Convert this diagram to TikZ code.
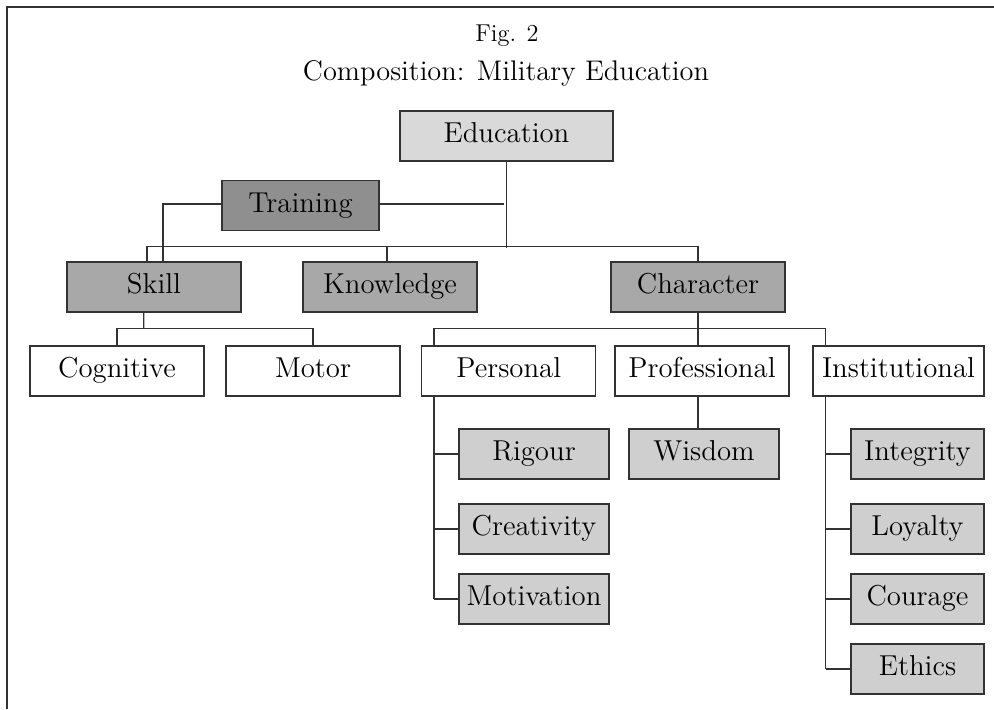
\documentclass[tikz,border=0pt]{standalone}
\usepackage{xcolor}
\definecolor{eduGray}{HTML}{D9D9D9}
\definecolor{trainGray}{HTML}{8F8F8F}
\definecolor{pillarGray}{HTML}{A8A8A8}
\definecolor{valueGray}{HTML}{CFCFCF}
\definecolor{lineDark}{HTML}{333333}
\usepackage{tikz}
\usetikzlibrary{positioning}

\begin{document}
\begin{tikzpicture}[
            x=0.5pt,
            y=-0.5pt,
            box/.style={
                draw=lineDark,
                rectangle,
                line width=0.65pt,
                inner sep=0pt,
                minimum width=87pt,
                minimum height=25pt,
                text height=10pt,
                text depth=3.3pt,
                fill=white,
                font=\fontsize{14.4}{17}\selectfont
            },
            pillar/.style={
                box,
                fill=pillarGray
            },
            valuebox/.style={
                box,
                minimum width=75pt,
                fill=valueGray
            },
            link/.style={
                draw=lineDark,
                line width=0.6pt
            },
            caption/.style={
                anchor=base,
                font=\fontsize{14.2}{17}\selectfont
            }
        ]
            \useasboundingbox (0,0) rectangle (994,709);
            \draw[line width=0.85pt, lineDark] (7,709) -- (7,6.7) -- (994,6.7);

            \node (fig) [caption, font=\fontsize{12.2}{14}\selectfont] at (507,41.7) {Fig. 2};
            \node (title) [caption] at (506,80.7) {Composition: Military Education};

            \node (education) [box, minimum width=106.5pt, fill=eduGray] at (506.5,136) {Education};
            \node (training) [box, minimum width=78.5pt, fill=trainGray] at (300.5,205.7) {Training};
            \node (skill) [pillar] at (154,287) {Skill};
            \node (knowledge) [pillar] at (390,287) {Knowledge};
            \node (character) [pillar] at (698,287) {Character};

            \node (cognitive) [box] at (117,371) {Cognitive};
            \node (motor) [box] at (313,371) {Motor};
            \node (personal) [box] at (508.8,371) {Personal};
            \node (professional) [box] at (702,371) {Professional};
            \node (institutional) [box, minimum width=85.5pt] at (898.5,371) {Institutional};

            \node (rigour) [valuebox] at (534,454) {Rigour};
            \node (creativity) [valuebox] at (534,529) {Creativity};
            \node (motivation) [valuebox] at (534,599) {Motivation};
            \node (wisdom) [valuebox] at (704,454) {Wisdom};
            \node (integrity) [valuebox, minimum width=66.5pt] at (917.5,454) {Integrity};
            \node (loyalty) [valuebox, minimum width=66.5pt] at (917.5,529) {Loyalty};
            \node (courage) [valuebox, minimum width=66.5pt] at (917.5,599) {Courage};
            \node (ethics) [valuebox, minimum width=66.5pt] at (917.5,669) {Ethics};

            \coordinate (eduEnd) at (506.5,248);
            \coordinate (topBus) at (506.5,246.7);
            \coordinate (trainEnd) at (504,204);
            \coordinate (skillBus) at (143.7,328.3);
            \coordinate (charBus) at (698,328.3);
            \coordinate (perSpine) at (434,599);
            \coordinate (insSpine) at (825.7,669);

            \draw[link] (education) -- (eduEnd);
            \draw[link] ([xshift=-3.5pt]skill.north) |- (topBus) -| (character);
            \draw[link] ([xshift=-1.5pt]knowledge.north) |- (topBus);
            \draw[link] (training.east |- trainEnd) -- (trainEnd);
            \draw[link] (training.west |- trainEnd) -| ([xshift=4.5pt]skill.north);

            \draw[link] ([xshift=-5.15pt]skill.south) -- (skillBus);
            \draw[link] (cognitive) |- (skillBus) -| (motor);

            \draw[link] (character) -- (charBus);
            \draw[link] (perSpine |- personal.north) |- (charBus) -| (insSpine |- institutional.north);
            \draw[link] (charBus) -- (charBus |- professional.north);
            \draw[link] (charBus |- professional.south) -- (charBus |- wisdom.north);

            \draw[link] (perSpine |- personal.south) -- (perSpine);
            \foreach \leaf in {rigour, creativity, motivation}
                \draw[link] (perSpine |- \leaf) -- (\leaf);
            \draw[link] (insSpine |- institutional.south) -- (insSpine);
            \foreach \leaf in {integrity, loyalty, courage, ethics}
                \draw[link] (insSpine |- \leaf) -- (\leaf);
        \end{tikzpicture}
\end{document}
